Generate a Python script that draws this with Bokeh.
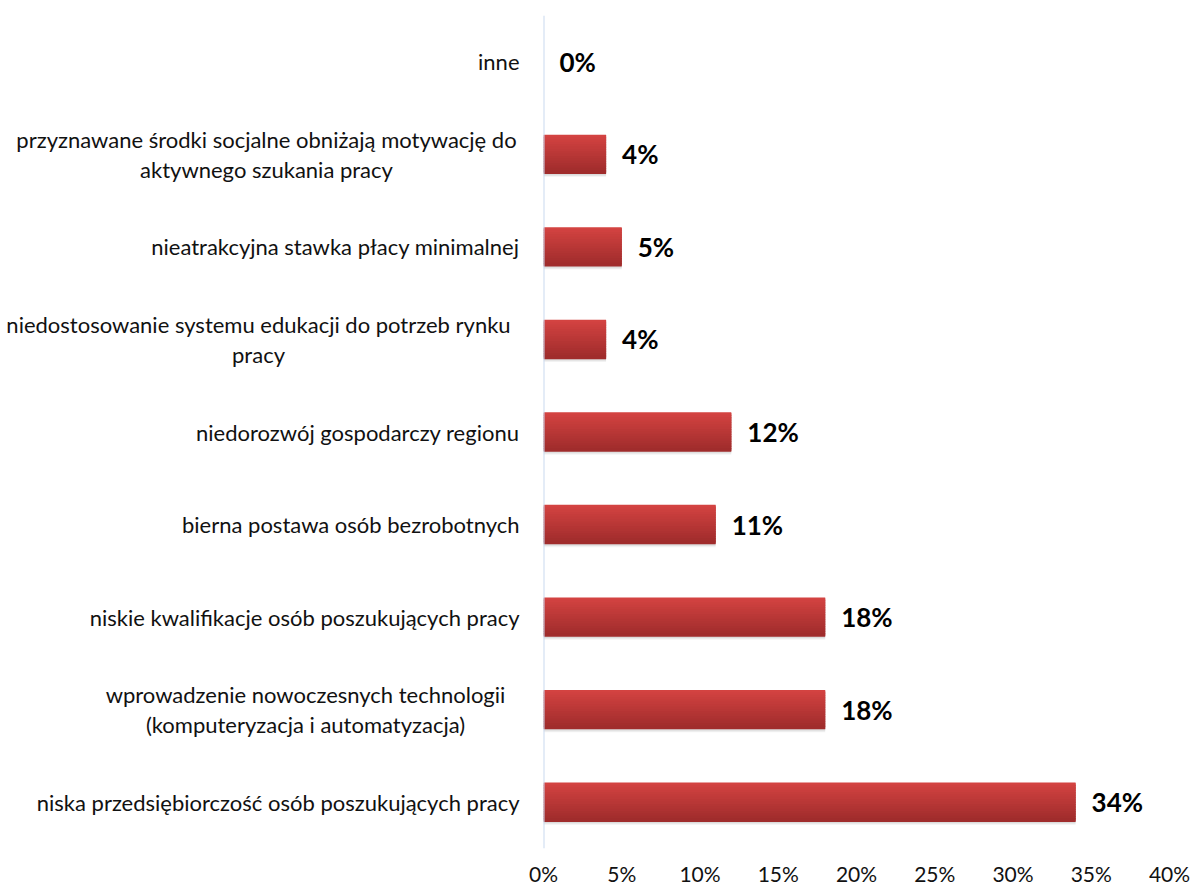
from bokeh.plotting import figure
from bokeh.models import ColumnDataSource, FactorRange, Range1d, FixedTicker, Span
from bokeh.layouts import row
from bokeh.transform import dodge
from bokeh.core.properties import value
from bokeh.embed import file_html
from bokeh.resources import INLINE

# ---- data (listed bottom -> top) ----
categories = [
    "niska przedsiębiorczość osób poszukujących pracy",
    "wprowadzenie nowoczesnych technologii\n(komputeryzacja i automatyzacja)",
    "niskie kwalifikacje osób poszukujących pracy",
    "bierna postawa osób bezrobotnych",
    "niedorozwój gospodarczy regionu",
    "niedostosowanie systemu edukacji do potrzeb rynku\npracy",
    "nieatrakcyjna stawka płacy minimalnej",
    "przyznawane środki socjalne obniżają motywację do\naktywnego szukania pracy",
    "inne",
]
values = [34, 18, 18, 11, 12, 4, 5, 4, 0]
value_labels = ["34%", "18%", "18%", "11%", "12%", "4%", "5%", "4%", "0%"]
x_ticks = [0, 5, 10, 15, 20, 25, 30, 35, 40]
x_tick_labels = ["0%", "5%", "10%", "15%", "20%", "25%", "30%", "35%", "40%"]

# ---- layout / style ----
FONT = "Lato"
LABEL_FONT_SIZE = "22px"
BAR_H = 0.41
LEFT_W = 523          # width of the label panel (pixels == data units there)
LABEL_RIGHT = 519     # right edge of single-line labels inside label panel
WRAPPED_CENTER = {    # line-centre x of wrapped labels inside label panel
    categories[1]: 305,
    categories[5]: 258,
    categories[7]: 266,
}
LINE_STEP = 30
FRAME_H = 833
TOP = 15

keys = [c.replace("\n", " ") for c in categories]
yr = FactorRange(factors=keys, range_padding=0)

# ---------- label panel ----------
lab = figure(frame_width=LEFT_W, frame_height=FRAME_H, output_backend="svg", toolbar_location=None,
             y_range=yr, x_range=Range1d(0, LEFT_W),
             min_border_left=0, min_border_right=0, min_border_top=TOP, min_border_bottom=10)
lab.outline_line_color = None
lab.grid.visible = False
lab.axis.visible = False

sx, sy, st = [], [], []
wx, wc, wo, wt = [], [], [], []
for k, c in zip(keys, categories):
    lines = c.split("\n")
    if len(lines) == 1:
        sx.append(LABEL_RIGHT); sy.append(k); st.append(c)
    else:
        n = len(lines)
        for j, ln in enumerate(lines):
            wx.append(WRAPPED_CENTER[c])
            wc.append(k)
            wo.append((j - (n - 1) / 2) * LINE_STEP)   # screen offset, positive = down
            wt.append(ln)

lab.text(x=sx, y=sy, text=st, text_align="right", text_baseline="middle",
         text_font=value(FONT), text_font_size=LABEL_FONT_SIZE, text_color="#111111")
wsrc = ColumnDataSource(dict(x=wx, cat=wc, yo=wo, t=wt))
lab.text(x="x", y="cat", text="t", source=wsrc, y_offset="yo",
         text_align="center", text_baseline="middle",
         text_font=value(FONT), text_font_size=LABEL_FONT_SIZE, text_color="#111111")

# ---------- bar panel ----------
p = figure(frame_width=626, frame_height=FRAME_H, output_backend="svg", toolbar_location=None,
           y_range=yr, x_range=Range1d(0, 40),
           min_border_left=20, min_border_right=22, min_border_top=TOP, min_border_bottom=10)
p.outline_line_color = None
p.grid.visible = False
p.yaxis.visible = False

src = ColumnDataSource(dict(cat=keys, val=values, lab=value_labels))

# soft shadow under bars
for off, a in [(-0.04, 0.08), (-0.03, 0.10), (-0.02, 0.12)]:
    p.hbar(y=dodge("cat", off, range=yr), right="val", left=0, height=BAR_H,
           source=src, fill_color="#7f7f7f", fill_alpha=a, line_color=None)

# base bar
p.hbar(y="cat", right="val", left=0, height=BAR_H, source=src,
       fill_color="#BA3838", line_color=None)
# gradient strips (top light -> bottom dark)
N = 16
top_c = (0xD3, 0x43, 0x41)
bot_c = (0xA0, 0x2C, 0x2C)
h = BAR_H / N
for i in range(N):
    t = i / (N - 1)
    col = tuple(round(top_c[k] + (bot_c[k] - top_c[k]) * t) for k in range(3))
    hexc = "#%02x%02x%02x" % col
    off = BAR_H / 2 - h * (i + 0.5)
    p.hbar(y=dodge("cat", off, range=yr), right="val", left=0, height=h * 1.6,
           source=src, fill_color=hexc, line_color=None)

# vertical axis line
p.add_layout(Span(location=0, dimension="height", line_color="#C9D9EF", line_width=2))

# value labels
p.text(x="val", y="cat", text="lab", source=src, x_offset=16,
       text_align="left", text_baseline="middle",
       text_font=value(FONT), text_font_style="bold", text_font_size="26px",
       text_color="black")

p.xaxis.ticker = FixedTicker(ticks=x_ticks)
p.xaxis.major_label_overrides = {t: l for t, l in zip(x_ticks, x_tick_labels)}
p.xaxis.axis_line_color = None
p.xaxis.major_tick_line_color = None
p.xaxis.minor_tick_line_color = None
p.xaxis.major_label_text_font = FONT
p.xaxis.major_label_text_font_size = "21px"
p.xaxis.major_label_text_color = "#111111"
p.xaxis.major_label_standoff = 6

layout = row(lab, p, spacing=0)
open("out.html", "w").write(file_html(layout, INLINE))
